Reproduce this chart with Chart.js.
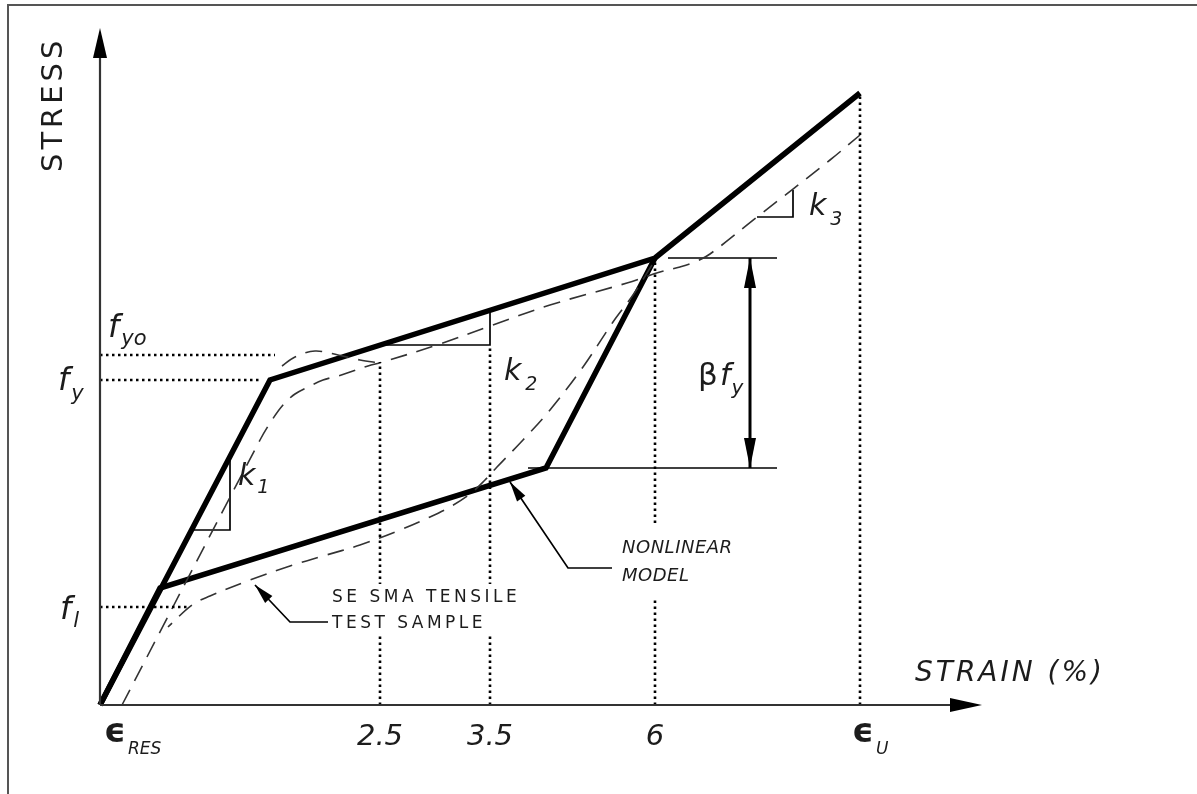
<!DOCTYPE html>
<html>
<head>
<meta charset="utf-8">
<title>SMA stress-strain model</title>
<script src="https://cdn.jsdelivr.net/npm/chart.js@4.4.1/dist/chart.umd.min.js"></script>
<style>
  html, body { margin: 0; padding: 0; background: #fff; }
  #wrap { width: 1197px; height: 794px; }
</style>
</head>
<body>
<div id="wrap"><canvas id="chart" width="1197" height="794"></canvas></div>
<script>
// ─── Data (schematic units: strain along x, stress along y) ───────────
const strainTicks = [0, 280, 390, 555, 760];
const strainLabels = ['\u03F5', '2.5', '3.5', '6', '\u03F5'];
const strainSubs = ['RES', '', '', '', 'U'];

const stressTicks = [98, 325, 350];
const stressSubs = ['l', 'y', 'yo'];

// nonlinear model (thick)
const modelLoadStrain = [0, 170, 555, 760];
const modelLoadStress = [0, 325, 447, 612];
const modelUnloadStrain = [555, 446, 60, 0];
const modelUnloadStress = [447, 237, 117, 0];

// SE SMA tensile test sample (dashed)
const testLoadStrain = [22, 160, 172, 183, 195, 208, 223, 238, 253, 268, 283, 340, 390, 450, 527, 560, 580, 595, 610, 657, 730, 760];
const testLoadStress = [0, 265, 285, 300, 311, 318, 325, 329, 334, 339, 343, 361, 379, 400, 422, 433, 438, 443, 451, 488, 545, 570];
const testPeakStrain = [182, 195, 215, 238, 260, 280];
const testPeakStress = [339, 348, 354, 350, 345, 342];
const testUnloadStrain = [552, 533, 513, 483, 450, 423, 397, 385, 370, 350, 330, 300, 260, 223, 190, 150, 110, 92, 68];
const testUnloadStress = [440, 410, 383, 338, 295, 265, 238, 225, 211, 198, 188, 175, 160, 149, 139, 125, 109, 100, 78];

// slope triangles
const k1Strain = [92, 130, 130];
const k1Stress = [175, 175, 248];
const k2Strain = [280, 390, 390];
const k2Stress = [360, 360, 395];
const k3Strain = [657, 693, 693];
const k3Stress = [488, 488, 515];

// beta*fy dimension
const betaTopStrain = [568, 677];
const betaBotStrain = [428, 677];
const betaStress = [237, 447];
const betaAt = 650;

// leaders
const testLeaderStrain = [155, 190, 228];
const testLeaderStress = [120, 83, 83];
const modelLeaderStrain = [410, 468, 512];
const modelLeaderStress = [223, 137, 137];

const pts = (xs, ys) => xs.map((x, i) => ({ x, y: ys[i] }));

function line(data, width, dash, color) {
  return {
    data, showLine: true, borderWidth: width, borderColor: color || '#000',
    borderDash: dash || [], pointRadius: 0, tension: 0, fill: false
  };
}

const dotted = [2.5, 3.5];
const dotW = 2.6;
const datasets = [
  // dotted reference lines
  line(pts([0, 175], [stressTicks[2], stressTicks[2]]), dotW, dotted),
  line(pts([0, 162], [stressTicks[1], stressTicks[1]]), dotW, dotted),
  line(pts([0, 90], [stressTicks[0], stressTicks[0]]), dotW, dotted),
  line(pts([strainTicks[1], strainTicks[1]], [0, 343]), dotW, dotted),
  line(pts([strainTicks[2], strainTicks[2]], [0, k2Stress[0]]), dotW, dotted),
  line(pts([strainTicks[3], strainTicks[3]], [0, 105]), dotW, dotted),
  line(pts([strainTicks[3], strainTicks[3]], [182, modelLoadStress[2]]), dotW, dotted),
  line(pts([strainTicks[4], strainTicks[4]], [0, modelLoadStress[3]]), dotW, dotted),
  // test sample
  Object.assign(line(pts(testLoadStrain, testLoadStress), 1.6, [17, 10], '#333'), { tension: 0.35 }),
  Object.assign(line(pts(testPeakStrain, testPeakStress), 1.6, [17, 10], '#333'), { tension: 0.35 }),
  Object.assign(line(pts(testUnloadStrain, testUnloadStress), 1.6, [17, 10], '#333'), { tension: 0.35 }),
  // triangles
  line(pts(k1Strain, k1Stress), 1.7),
  line(pts(k2Strain, k2Stress), 1.7),
  line(pts(k3Strain, k3Stress), 1.7),
  // dimension
  line(pts(betaTopStrain, [betaStress[1], betaStress[1]]), 1.7),
  line(pts(betaBotStrain, [betaStress[0], betaStress[0]]), 1.7),
  line(pts([betaAt, betaAt], betaStress), 3),
  // leaders
  line(pts(testLeaderStrain, testLeaderStress), 1.7),
  line(pts(modelLeaderStrain, modelLeaderStress), 1.7),
  // nonlinear model
  Object.assign(line(pts(modelLoadStrain, modelLoadStress), 5.5), { borderJoinStyle: 'miter' }),
  Object.assign(line(pts(modelUnloadStrain, modelUnloadStress), 5.5), { borderJoinStyle: 'miter' })
];

// ─── Drawing helpers ─────────────────────────────────────
function arrowHead(ctx, fx, fy, tx, ty, len, half) {
  const a = Math.atan2(ty - fy, tx - fx);
  ctx.beginPath();
  ctx.moveTo(tx, ty);
  ctx.lineTo(tx - len * Math.cos(a) + half * Math.sin(a), ty - len * Math.sin(a) - half * Math.cos(a));
  ctx.lineTo(tx - len * Math.cos(a) - half * Math.sin(a), ty - len * Math.sin(a) + half * Math.cos(a));
  ctx.closePath();
  ctx.fill();
}

function subText(ctx, main, sub, x, y, mainFont, subFont, dx, dy) {
  ctx.font = mainFont;
  ctx.fillText(main, x, y);
  const w = ctx.measureText(main).width;
  if (sub) {
    ctx.font = subFont;
    ctx.fillText(sub, x + w + dx, y + dy);
  }
}

const FONT = '"DejaVu Sans", sans-serif';

const diagram = {
  id: 'diagram',
  afterDatasetsDraw(chart) {
    const { ctx, chartArea: ca } = chart;
    const X = v => chart.scales.x.getPixelForValue(v);
    const Y = v => chart.scales.y.getPixelForValue(v);
    ctx.save();

    // frame
    ctx.strokeStyle = '#555';
    ctx.lineWidth = 2;
    ctx.beginPath();
    ctx.moveTo(8, chart.height);
    ctx.lineTo(8, 5);
    ctx.lineTo(chart.width, 5);
    ctx.stroke();

    // axes
    ctx.strokeStyle = '#333';
    ctx.lineWidth = 2.2;
    ctx.beginPath();
    ctx.moveTo(X(0), Y(0));
    ctx.lineTo(X(0), ca.top + 20);
    ctx.moveTo(X(0), Y(0));
    ctx.lineTo(ca.right - 20, Y(0));
    ctx.stroke();
    ctx.fillStyle = '#000';
    arrowHead(ctx, X(0), Y(0), X(0), ca.top - 2, 30, 7);
    arrowHead(ctx, X(0), Y(0), ca.right + 2, Y(0), 32, 7);

    // dimension arrows
    arrowHead(ctx, X(betaAt), Y(betaStress[0]), X(betaAt), Y(betaStress[1]), 30, 6);
    arrowHead(ctx, X(betaAt), Y(betaStress[1]), X(betaAt), Y(betaStress[0]), 30, 6);

    // leader arrows
    arrowHead(ctx, X(testLeaderStrain[1]), Y(testLeaderStress[1]), X(testLeaderStrain[0]), Y(testLeaderStress[0]), 20, 5);
    arrowHead(ctx, X(modelLeaderStrain[1]), Y(modelLeaderStress[1]), X(modelLeaderStrain[0]), Y(modelLeaderStress[0]), 20, 5);

    ctx.fillStyle = '#1c1c1c';
    ctx.textBaseline = 'alphabetic';
    ctx.textAlign = 'left';

    // axis titles
    ctx.save();
    ctx.translate(X(0) - 38, ca.top + 142);
    ctx.rotate(-Math.PI / 2);
    ctx.font = '29px ' + FONT;
    ctx.letterSpacing = '4px';
    ctx.fillText('STRESS', 0, 0);
    ctx.restore();
    ctx.font = 'italic 28px ' + FONT;
    ctx.letterSpacing = '3px';
    ctx.fillText('STRAIN (%)', X(815), Y(24));
    ctx.letterSpacing = '0px';

    // strain ticks
    strainTicks.forEach((v, i) => {
      const x = X(v), y = Y(0) + 40;
      if (strainSubs[i]) {
        ctx.textAlign = 'left';
        subText(ctx, strainLabels[i], strainSubs[i], x + (i === 0 ? 4 : -8), y - 3, 'bold 34px ' + FONT, 'italic 17px ' + FONT, 2, 12);
      } else {
        ctx.textAlign = 'center';
        ctx.font = 'italic 29px ' + FONT;
        ctx.fillText(strainLabels[i], x, y);
      }
    });
    ctx.textAlign = 'left';

    // stress ticks
    const fF = 'italic 32px ' + FONT, sF = 'italic 21px ' + FONT;
    subText(ctx, 'f', stressSubs[2], X(0) + 8, Y(stressTicks[2]) - 18, fF, sF, 2, 8);
    subText(ctx, 'f', stressSubs[1], X(0) - 42, Y(stressTicks[1]) + 10, fF, sF, 2, 10);
    subText(ctx, 'f', stressSubs[0], X(0) - 40, Y(stressTicks[0]) + 12, fF, sF, 2, 8);

    // slopes
    const kF = 'italic 30px ' + FONT, kS = 'italic 19px ' + FONT;
    subText(ctx, 'k', '1', X(k1Strain[1]) + 8, Y(220), kF, kS, 2, 8);
    subText(ctx, 'k', '2', X(k2Strain[1]) + 14, Y(325), kF, kS, 4, 10);
    subText(ctx, 'k', '3', X(k3Strain[1]) + 16, Y(490), kF, kS, 4, 10);

    // beta fy
    ctx.font = '31px ' + FONT;
    ctx.fillText('\u03B2', X(betaAt) - 52, Y(320));
    subText(ctx, 'f', 'y', X(betaAt) - 30, Y(320), 'italic 30px ' + FONT, 'italic 20px ' + FONT, 1, 9);

    // callouts (white backing breaks the dotted lines behind the text)
    const tx = X(testLeaderStrain[2]) + 4, ty = Y(testLeaderStress[2]);
    ctx.font = '17px ' + FONT;
    ctx.letterSpacing = '3.5px';
    const tw = ctx.measureText('SE SMA TENSILE').width;
    ctx.fillStyle = '#fff';
    ctx.fillRect(tx - 2, ty - 38, tw + 4, 52);
    ctx.fillStyle = '#1c1c1c';
    ctx.fillText('SE SMA TENSILE', tx, ty - 20);
    ctx.fillText('TEST SAMPLE', tx, ty + 6);
    ctx.font = 'italic 18px ' + FONT;
    ctx.letterSpacing = '0.5px';
    ctx.fillText('NONLINEAR', X(modelLeaderStrain[2]) + 10, Y(modelLeaderStress[2]) - 15);
    ctx.fillText('MODEL', X(modelLeaderStrain[2]) + 10, Y(modelLeaderStress[2]) + 13);
    ctx.letterSpacing = '0px';
    ctx.restore();
  }
};

new Chart(document.getElementById('chart'), {
  type: 'scatter',
  data: { datasets },
  options: {
    responsive: false,
    animation: false,
    layout: { padding: { left: 100, right: 217, top: 30, bottom: 89 } },
    plugins: { legend: { display: false }, tooltip: { enabled: false } },
    scales: {
      x: { type: 'linear', min: 0, max: 880, display: false },
      y: { type: 'linear', min: 0, max: 675, display: false }
    },
    elements: { line: { borderCapStyle: 'butt' } },
    clip: false
  },
  plugins: [diagram]
});
</script>
</body>
</html>
